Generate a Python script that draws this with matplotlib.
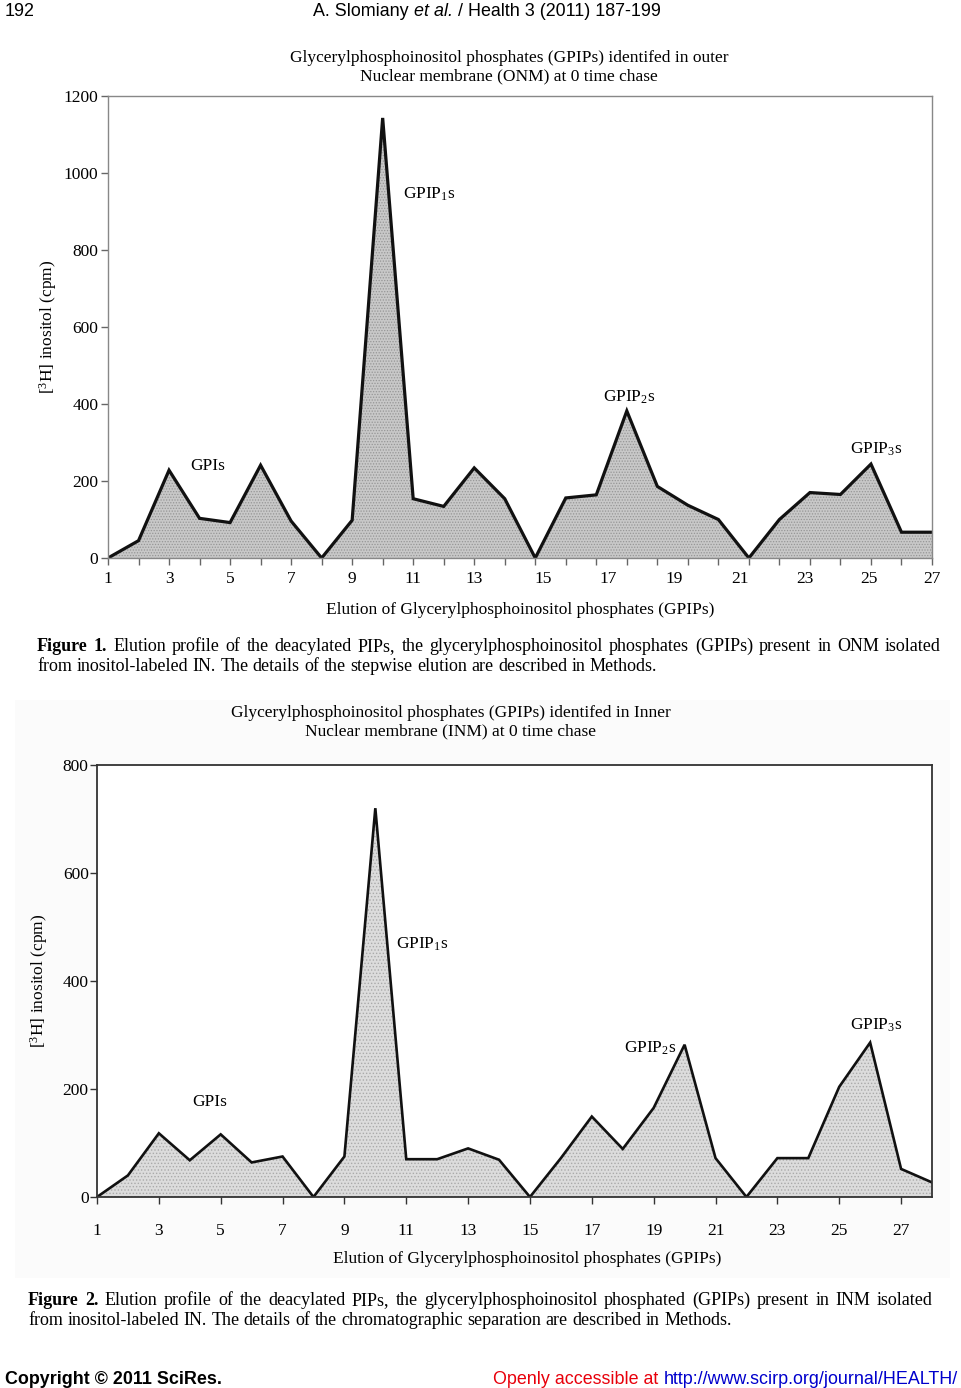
import matplotlib
matplotlib.use("Agg")
import matplotlib.pyplot as plt
import matplotlib.transforms as mtransforms
from matplotlib.patches import Rectangle
import numpy as np

plt.rcParams['font.family'] = ['Liberation Serif', 'DejaVu Serif']
plt.rcParams['mathtext.fontset'] = 'custom'
plt.rcParams['mathtext.rm'] = 'Liberation Serif'
plt.rcParams['mathtext.it'] = 'Liberation Serif:italic'
plt.rcParams['hatch.linewidth'] = 0.6

# ---------------- data ----------------
onm_fraction = list(range(1, 29))
onm_cpm = [0, 45, 228, 103, 92, 241, 96, 0, 98, 1143, 154, 134, 234, 154,
           0, 156, 164, 382, 186, 137, 100, 0, 100, 170, 165, 244, 67, 67]

inm_fraction = list(range(1, 29))
inm_cpm = [0, 40, 118, 68, 116, 64, 75, 0, 75, 720, 70, 70, 90, 69,
           0, 72, 149, 89, 165, 282, 72, 0, 72, 72, 204, 286, 52, 27]

x_tick_labels = ['1', '3', '5', '7', '9', '11', '13', '15', '17', '19', '21', '23', '25', '27']
onm_yticks = [0, 200, 400, 600, 800, 1000, 1200]
inm_yticks = [0, 200, 400, 600, 800]

peak_labels = ['GPIs', r'GPIP$_{\mathregular{1}}$s', r'GPIP$_{\mathregular{2}}$s', r'GPIP$_{\mathregular{3}}$s']

# layout: where the (hand-placed) x labels of Figure 1 sit along the axis
onm_label_pos = [1, 3, 5, 7, 9, 11, 13, 15.25, 17.4, 19.55, 21.7, 23.85, 25.95, 28.0]
onm_peak_pos = [(3.69, 239), (10.67, 945), (17.22, 418), (25.31, 283)]
inm_peak_pos = [(4.07, 176), (10.67, 468), (18.04, 276), (25.35, 318)]

FS = 12.5
SFS = 12.9
W, H = 962, 1388
fig = plt.figure(figsize=(W / 100, H / 100), dpi=100)
renderer = fig.canvas.get_renderer()


def fx(x):
    return x / W


def fy(y):
    return 1 - y / H


def add_axes_px(l, t, r, b):
    return fig.add_axes([fx(l), fy(b), (r - l) / W, (b - t) / H])


SANS = ['Liberation Sans', 'DejaVu Sans']

# ---------- header ----------
fig.text(fx(5), fy(11), '192', family=SANS, fontsize=SFS, va='center', ha='left')
h1 = fig.text(fx(313), fy(11), 'A. Slomiany ', family=SANS, fontsize=SFS, va='center', ha='left')
b = h1.get_window_extent(renderer=renderer)
h2 = fig.text(b.x1 / W, fy(11), 'et al.', family=SANS, style='italic', fontsize=SFS, va='center', ha='left')
b = h2.get_window_extent(renderer=renderer)
fig.text(b.x1 / W, fy(11), ' / Health 3 (2011) 187-199', family=SANS, fontsize=SFS, va='center', ha='left')

# ---------- Figure 1 ----------
ax1 = add_axes_px(108, 96, 932, 558)
x1 = np.array(onm_fraction)
y1 = np.array(onm_cpm)
ax1.fill_between(x1, y1, 0, facecolor='#c8c8c8', edgecolor='#969696', hatch='......', linewidth=0)
ax1.plot(x1, y1, color='#111111', lw=2.3, solid_joinstyle='miter')
ax1.set_xlim(1, 28)
ax1.set_ylim(0, 1200)
ax1.set_xticks(onm_fraction)
ax1.set_xticklabels([])
ax1.set_yticks(onm_yticks)
ax1.set_yticklabels([str(v) for v in onm_yticks], fontsize=FS)
for s in ax1.spines.values():
    s.set_color('#888888')
    s.set_linewidth(1.0)
ax1.tick_params(axis='both', direction='out', length=5, width=1, color='#666666')
ax1.tick_params(axis='y', pad=2)
trans1 = mtransforms.blended_transform_factory(ax1.transData, ax1.transAxes)
for lab, pos in zip(x_tick_labels, onm_label_pos):
    ax1.text(pos, -0.045, lab, transform=trans1, ha='center', va='center', fontsize=FS, clip_on=False)
ax1.set_ylabel(r'[$^{\mathregular{3}}$H] inositol (cpm)', fontsize=FS)
ax1.yaxis.set_label_coords(-0.0595, 0.5)
ax1.set_xlabel('Elution of Glycerylphosphoinositol phosphates (GPIPs)', fontsize=FS)
ax1.xaxis.set_label_coords(0.5, -0.095)
for lab, (px, py) in zip(peak_labels, onm_peak_pos):
    ax1.text(px, py, lab, ha='left', va='center', fontsize=FS)
fig.text(fx(509), fy(58), 'Glycerylphosphoinositol phosphates (GPIPs) identifed in outer',
         ha='center', va='center', fontsize=FS)
fig.text(fx(509), fy(76), 'Nuclear membrane (ONM) at 0 time chase', ha='center', va='center', fontsize=FS)

# ---------- Figure 2 ----------
fig.patches.append(Rectangle((fx(15), fy(1278)), (950 - 15) / W, (1278 - 700) / H,
                             transform=fig.transFigure, facecolor='#fbfbfb', edgecolor='none', zorder=-5))
ax2 = add_axes_px(97, 765, 932, 1197)
x2 = np.array(inm_fraction)
y2 = np.array(inm_cpm)
ax2.fill_between(x2, y2, 0, facecolor='#dcdcdc', edgecolor='#aaaaaa', hatch='.....', linewidth=0)
ax2.plot(x2, y2, color='#111111', lw=1.9, solid_joinstyle='miter')
ax2.set_xlim(1, 28)
ax2.set_ylim(0, 800)
ax2.set_xticks(list(range(1, 28, 2)))
ax2.set_xticklabels(x_tick_labels, fontsize=FS)
ax2.set_yticks(inm_yticks)
ax2.set_yticklabels([str(v) for v in inm_yticks], fontsize=FS)
for s in ax2.spines.values():
    s.set_color('#333333')
    s.set_linewidth(1.3)
ax2.tick_params(axis='both', direction='out', length=5, width=1, color='#333333')
ax2.tick_params(axis='x', pad=14)
ax2.tick_params(axis='y', pad=1)
ax2.set_ylabel(r'[$^{\mathregular{3}}$H] inositol (cpm)', fontsize=FS)
ax2.yaxis.set_label_coords(-0.056, 0.5)
ax2.set_xlabel('Elution of Glycerylphosphoinositol phosphates (GPIPs)', fontsize=FS)
ax2.xaxis.set_label_coords(0.515, -0.125)
for lab, (px, py) in zip(peak_labels, inm_peak_pos):
    ax2.text(px, py, lab, ha='left', va='center', fontsize=FS)
fig.text(fx(451), fy(713), 'Glycerylphosphoinositol phosphates (GPIPs) identifed in Inner',
         ha='center', va='center', fontsize=FS)
fig.text(fx(451), fy(731), 'Nuclear membrane (INM) at 0 time chase', ha='center', va='center', fontsize=FS)

# ---------- captions (justified) ----------
CFS = 13


def justified_line(segments, x0, x1, y, size=CFS, justify=True):
    texts = []
    widths = []
    for w, wt in segments:
        t = fig.text(0, 0, w, fontsize=size, weight=wt, va='baseline', ha='left')
        bb = t.get_window_extent(renderer=renderer)
        texts.append(t)
        widths.append(bb.width)
    ta = fig.text(0, 0, 'a b', fontsize=size)
    tb = fig.text(0, 0, 'ab', fontsize=size)
    space = ta.get_window_extent(renderer=renderer).width - tb.get_window_extent(renderer=renderer).width
    ta.remove()
    tb.remove()
    if justify and len(texts) > 1:
        gap = (x1 - x0 - sum(widths)) / (len(texts) - 1)
    else:
        gap = space
    x = x0
    for t, w in zip(texts, widths):
        t.set_position((fx(x), fy(y + 5)))
        x += w + gap


def words(s, weight='normal'):
    return [(w, weight) for w in s.split()]


cap1_l1 = words('Figure 1.', 'bold') + words('Elution profile of the deacylated PIPs, the glycerylphosphoinositol '
                                             'phosphates (GPIPs) present in ONM isolated')
cap1_l2 = words('from inositol-labeled IN. The details of the stepwise elution are described in Methods.')
justified_line(cap1_l1, 37, 941, 646)
justified_line(cap1_l2, 37, 941, 666, justify=False)

cap2_l1 = words('Figure 2.', 'bold') + words('Elution profile of the deacylated PIPs, the glycerylphosphoinositol '
                                             'phosphated (GPIPs) present in INM isolated')
cap2_l2 = words('from inositol-labeled IN. The details of the chromatographic separation are described in Methods.')
justified_line(cap2_l1, 28, 933, 1300)
justified_line(cap2_l2, 28, 933, 1320, justify=False)

# ---------- footer ----------
fig.text(fx(5), fy(1380), 'Copyright \u00a9 2011 SciRes.', family=SANS, weight='bold',
         fontsize=SFS, va='center', ha='left')
link = fig.text(fx(958), fy(1380), 'http://www.scirp.org/journal/HEALTH/', family=SANS,
                fontsize=SFS, va='center', ha='right', color='#0000cc')
lb = link.get_window_extent(renderer=renderer)
fig.text(lb.x0 / W, fy(1380), 'Openly accessible at ', family=SANS, fontsize=SFS,
         va='center', ha='right', color='#e8000b')
fig.add_artist(plt.Line2D([lb.x0 / W, lb.x1 / W], [lb.y0 / H - 0.0004, lb.y0 / H - 0.0004],
                          transform=fig.transFigure, color='#0000cc', lw=0.8))

fig.savefig('out.png', dpi=100, facecolor='white')
